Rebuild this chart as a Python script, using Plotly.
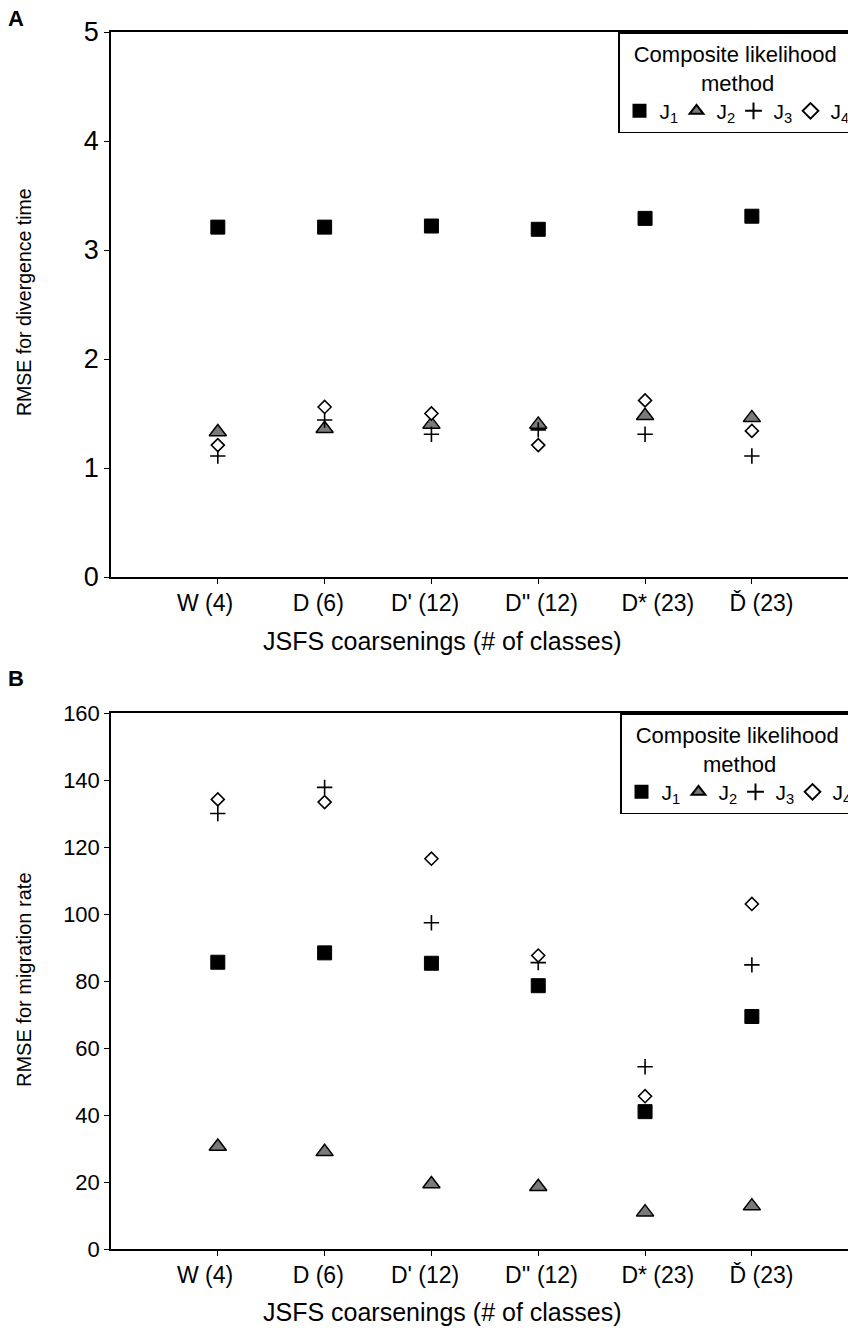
import plotly.graph_objects as go

# ---------------- data ----------------
categories = ["W (4)", "D (6)", "D' (12)", "D'' (12)", "D* (23)", "Ď (23)"]
series_names = ["J<sub>1</sub>", "J<sub>2</sub>", "J<sub>3</sub>", "J<sub>4</sub>"]

div_J1 = [3.21, 3.21, 3.22, 3.19, 3.29, 3.31]
div_J2 = [1.33, 1.36, 1.40, 1.40, 1.48, 1.46]
div_J3 = [1.11, 1.44, 1.31, 1.35, 1.31, 1.11]
div_J4 = [1.21, 1.56, 1.50, 1.21, 1.62, 1.34]

mig_J1 = [85.6, 88.4, 85.3, 78.6, 41.0, 69.4]
mig_J2 = [30.6, 29.0, 19.4, 18.6, 11.0, 12.8]
mig_J3 = [130.0, 137.8, 97.4, 85.5, 54.4, 84.8]
mig_J4 = [134.2, 133.4, 116.5, 87.6, 45.6, 103.0]

div_ticks = [0, 1, 2, 3, 4, 5]
mig_ticks = [0, 20, 40, 60, 80, 100, 120, 140, 160]

# ---------------- styling ----------------
W, H = 848, 1336
FONT = "Liberation Sans, Arial, sans-serif"
NB = "\u00a0"
# small visual offsets of the category labels as in the original figure
label_pad = [(0, 4), (0, 2), (0, 2), (1, 0), (4, 0), (3, 0)]
ticktext = [NB * a + c + NB * b for c, (a, b) in zip(categories, label_pad)]

styles = [
    dict(symbol="square", size=14, color="black", line=dict(color="black", width=1)),
    dict(symbol="triangle-up", size=15, color="#7a7a7a", line=dict(color="black", width=1.5)),
    dict(symbol="cross-thin", size=11, color="black", line=dict(color="black", width=1.6)),
    dict(symbol="diamond", size=10, color="white", line=dict(color="black", width=1.6)),
]

xpos = list(range(len(categories)))


def py(px):
    return 1 - px / H


def pxx(px):
    return px / W


fig = go.Figure()

panels = [
    ([div_J1, div_J2, div_J3, div_J4], "x", "y", "legend"),
    ([mig_J1, mig_J2, mig_J3, mig_J4], "x2", "y2", "legend2"),
]
for vals, xa, ya, lg in panels:
    for name, v, st in zip(series_names, vals, styles):
        fig.add_trace(go.Scatter(
            x=xpos, y=v, mode="markers", name=name, marker=st,
            xaxis=xa, yaxis=ya, legend=lg, showlegend=True, cliponaxis=False,
        ))

# geometry (pixels)
A_top, A_bot = 32, 577
B_top, B_bot = 713, 1249
left = 111

xcommon = dict(
    range=[-1, 5.9], tickvals=xpos, ticktext=ticktext, showline=True,
    linecolor="black", linewidth=1.5, ticks="outside", ticklen=5, tickwidth=1.2,
    tickcolor="black", showgrid=False, zeroline=False, mirror=True,
    tickfont=dict(family=FONT, size=23, color="black"),
)
ycommon = dict(
    showline=True, linecolor="black", linewidth=1.5, ticks="outside", ticklen=5,
    tickwidth=1.2, tickcolor="black", showgrid=False, zeroline=False,
)


def legend_cfg(xpx, ypx):
    return dict(
        orientation="h", x=pxx(xpx), y=py(ypx), xanchor="left", yanchor="top",
        bgcolor="white", bordercolor="black", borderwidth=1.5,
        title=dict(text=NB * 2 + "Composite likelihood<br>" + NB * 13 + "method",
                   side="top", font=dict(family=FONT, size=22, color="black")),
        font=dict(family=FONT, size=21, color="black"),
        itemsizing="constant", itemwidth=30, tracegroupgap=0,
        entrywidth=12, entrywidthmode="pixels",
    )


fig.update_layout(
    width=W, height=H, paper_bgcolor="white", plot_bgcolor="white",
    margin=dict(l=0, r=0, t=0, b=0, autoexpand=False),
    font=dict(family=FONT, color="black"),
    xaxis=dict(domain=[pxx(left), 1], anchor="y", **xcommon),
    yaxis=dict(domain=[py(A_bot), py(A_top)], anchor="x", range=[0, 5],
               tickvals=div_ticks, tickfont=dict(family=FONT, size=27, color="black"),
               **ycommon),
    xaxis2=dict(domain=[pxx(left), 1], anchor="y2", **xcommon),
    yaxis2=dict(domain=[py(B_bot), py(B_top)], anchor="x2", range=[0, 160],
                tickvals=mig_ticks, tickfont=dict(family=FONT, size=22, color="black"),
                **ycommon),
    legend=legend_cfg(618, A_top),
    legend2=legend_cfg(620, B_top),
)

ann = [
    dict(text="<b>A</b>", x=pxx(16), y=py(19), font=dict(size=22)),
    dict(text="<b>B</b>", x=pxx(16), y=py(678), font=dict(size=22)),
    dict(text="RMSE for divergence time", x=pxx(24), y=py(302), textangle=-90,
         font=dict(size=19.5)),
    dict(text="RMSE for migration rate", x=pxx(24), y=py(980), textangle=-90,
         font=dict(size=20)),
    dict(text="JSFS coarsenings (# of classes)", x=pxx(442), y=py(641),
         font=dict(size=25)),
    dict(text="JSFS coarsenings (# of classes)", x=pxx(442), y=py(1312),
         font=dict(size=25)),
]
for a in ann:
    a.update(xref="paper", yref="paper", showarrow=False, xanchor="center",
             yanchor="middle")
    a["font"].update(family=FONT, color="black")
    fig.add_annotation(**a)

fig.write_html(
    "out.html",
    config={"displayModeBar": False},
    post_script="document.body.style.margin='0px';document.body.style.overflow='hidden';",
)
